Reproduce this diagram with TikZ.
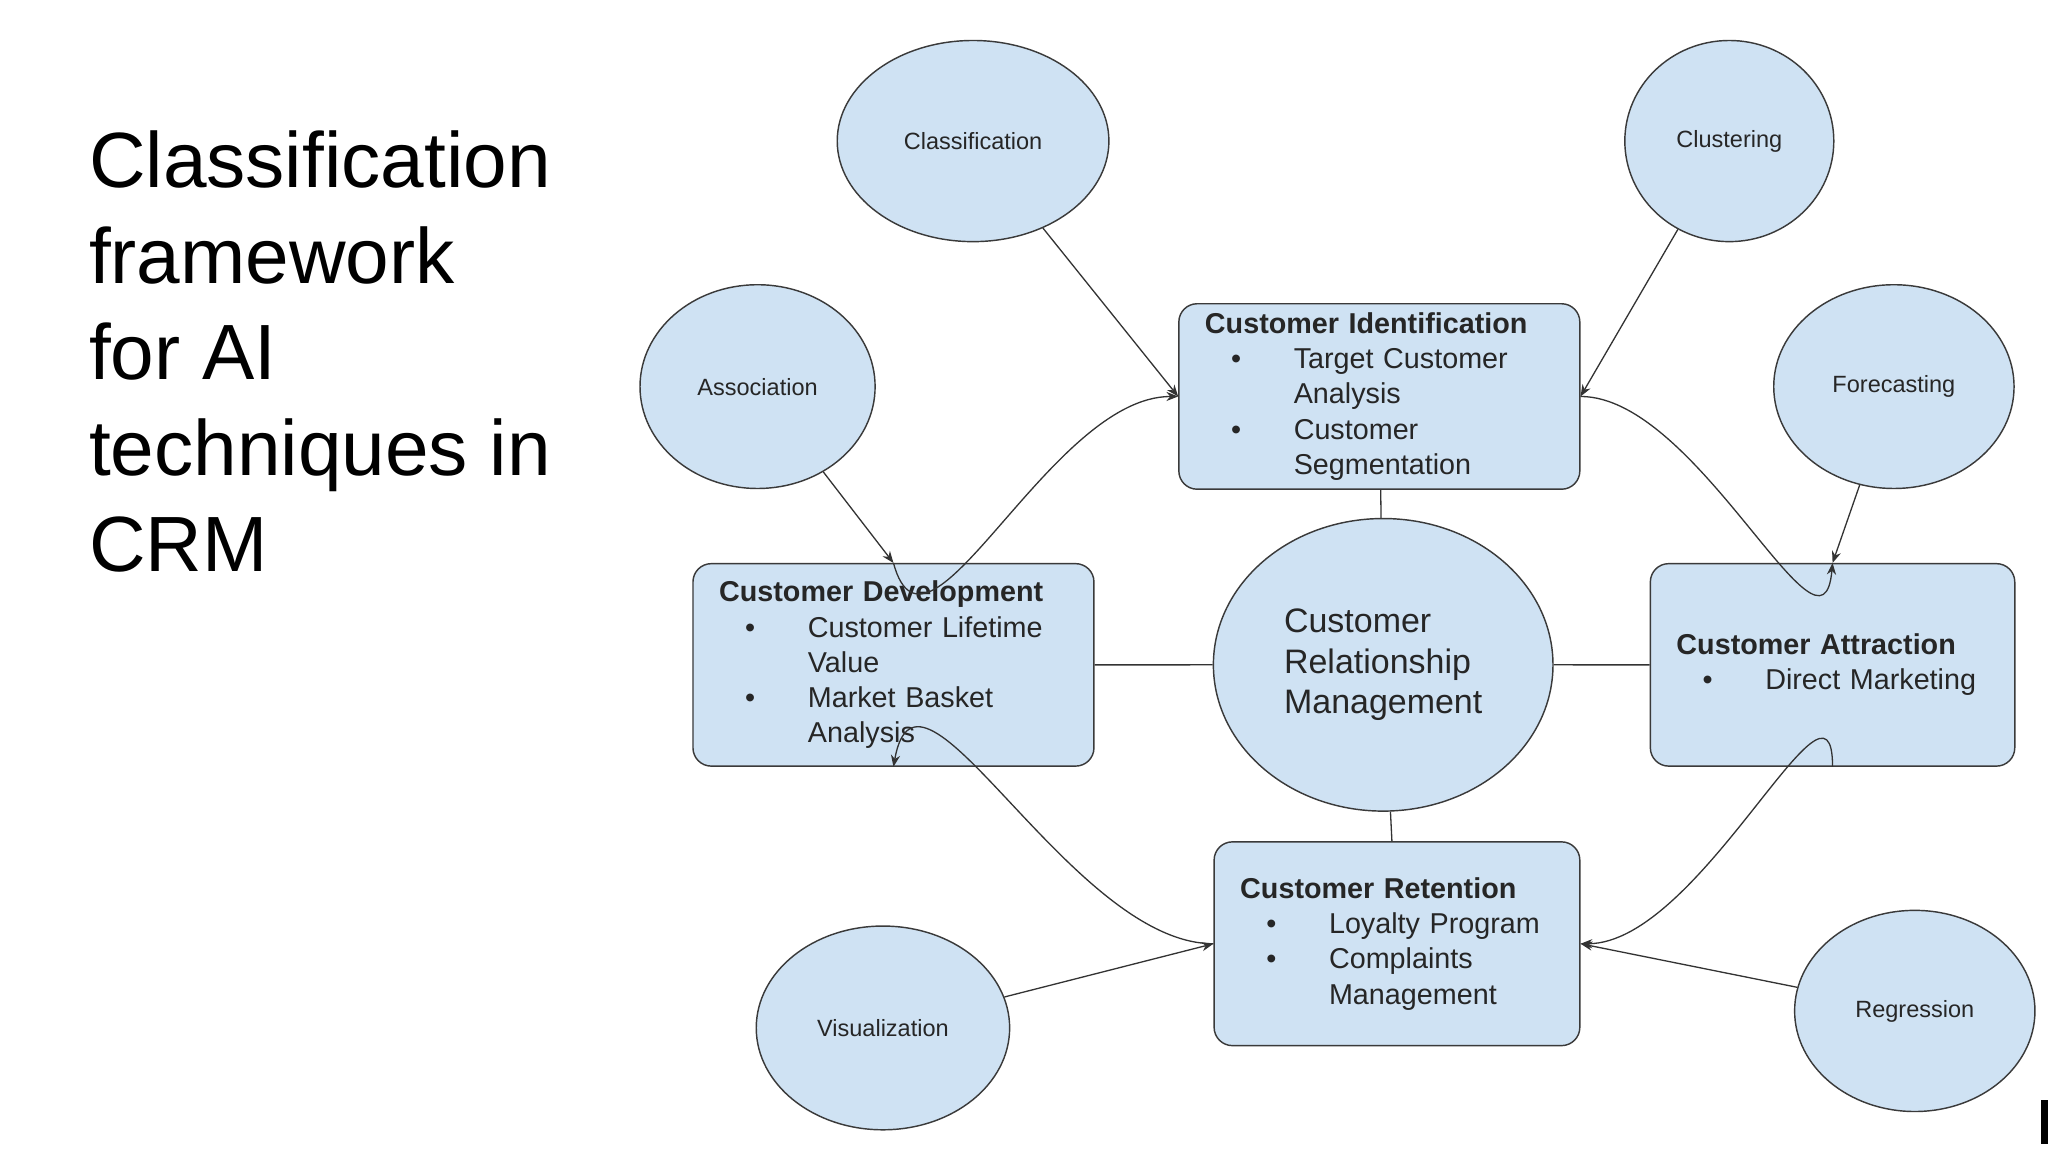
\documentclass[tikz,border=0pt]{standalone}
\usepackage{fontspec}
\setmainfont{Liberation Sans}
\usetikzlibrary{shapes.geometric,arrows.meta}
\definecolor{fillb}{HTML}{CFE2F3}
\definecolor{edge}{HTML}{3A3A3A}
\newcommand{\bitem}[1]{\makebox[68pt][l]{\hspace{20pt}\textbullet}#1}
\newcommand{\bcont}[1]{\hspace{68pt}#1}
\begin{document}
\begin{tikzpicture}[x=1pt,y=-1pt,
  ell/.style={ellipse,draw=edge,fill=fillb,line width=1.1pt,inner sep=0pt,font=\fontsize{18}{20}\selectfont,text=black!85},
  box/.style={draw=edge,fill=fillb,line width=1.1pt,rounded corners=14pt,inner xsep=20pt,inner ysep=0pt,align=left,font=\fontsize{22}{27}\selectfont,text=black!85,anchor=north west},
  arr/.style={-{Stealth[length=9pt,width=7pt]},line width=1pt,black!80},
  ln/.style={line width=1pt,black!80}]
\useasboundingbox (0,0) rectangle (1568,882);
\fill[white] (0,0) rectangle (1568,882);
\node[anchor=north west,align=left,font=\fontsize{60}{73.5}\selectfont,inner sep=0pt] (title) at (68,100)
 {Classification\\framework\\for AI\\techniques in\\CRM};

\node[box,minimum width=307pt,minimum height=142pt,text width=267pt] (ident) at (902,232)
 {\textbf{Customer Identification}\\\bitem{Target Customer}\\\bcont{Analysis}\\\bitem{Customer}\\\bcont{Segmentation}};
\node[box,minimum width=307pt,minimum height=155pt,text width=267pt] (dev) at (530,431)
 {\textbf{Customer Development}\\\bitem{Customer Lifetime}\\\bcont{Value}\\\bitem{Market Basket}\\\bcont{Analysis}};
\node[box,minimum width=279pt,minimum height=155pt,text width=239pt] (attr) at (1263,431)
 {\textbf{Customer Attraction}\\\bitem{Direct Marketing}};
\node[box,minimum width=280pt,minimum height=156pt,text width=240pt] (ret) at (929,644)
 {\textbf{Customer Retention}\\\bitem{Loyalty Program}\\\bitem{Complaints}\\\bcont{Management}};

\node[ell,minimum width=260pt,minimum height=224pt,font=\fontsize{26}{31}\selectfont,align=left] (crm) at (1059,509)
 {Customer\\Relationship\\Management};

\node[ell,minimum width=208pt,minimum height=154pt] (cls) at (745,108) {Classification};
\node[ell,minimum width=160pt,minimum height=154pt] (clu) at (1324,108) {Clustering};
\node[ell,minimum width=180pt,minimum height=156pt] (ass) at (580,296) {Association};
\node[ell,minimum width=184pt,minimum height=156pt] (for) at (1450,296) {Forecasting};
\node[ell,minimum width=194pt,minimum height=156pt] (vis) at (676,787) {Visualization};
\node[ell,minimum width=184pt,minimum height=154pt] (reg) at (1466,774) {Regression};

\draw[ln] (crm) -- (ident);
\draw[ln] (crm) -- (dev);
\draw[ln] (crm) -- (attr);
\draw[ln] (crm) -- (ret);

\draw[arr] (cls) -- (ident.west);
\draw[arr] (clu) -- (ident.east);
\draw[arr] (ass) -- (dev.north);
\draw[arr] (for) -- (attr.north);
\draw[arr] (vis) -- (ret.west);
\draw[arr] (reg) -- (ret.east);

\draw[arr] (dev.north) to[out=-75,in=180] (ident.west);
\draw[arr] (ident.east) to[out=0,in=-95] (attr.north);
\draw[arr] (attr.south) to[out=90,in=0] (ret.east);
\draw[arr] (ret.west) to[out=180,in=80] (dev.south);

\fill[black] (1563,842) rectangle (1568,876);
\end{tikzpicture}
\end{document}
